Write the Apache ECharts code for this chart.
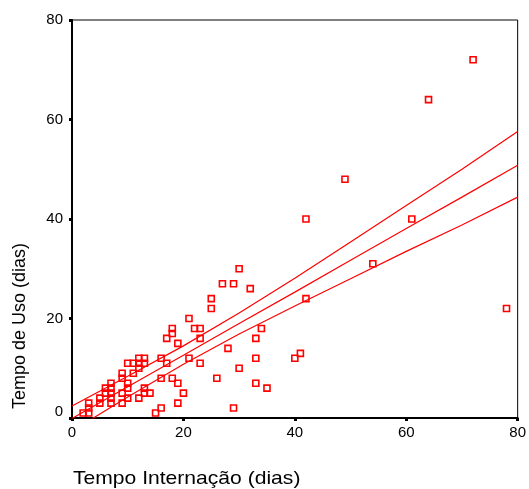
<!DOCTYPE html>
<html>
<head>
<meta charset="utf-8">
<script src="https://cdn.jsdelivr.net/npm/echarts@6/dist/echarts.min.js"></script>
<style>html,body{margin:0;padding:0;background:#fff;}#c{width:529px;height:489px;}</style>
</head>
<body>
<div id="c"></div>
<script>
// Observed points: [Tempo Internação, Tempo de Uso]
const points = [
  [72,72],[64,64],[49,48],[42,40],[61,40],[54,31],[78,22],[42,24],[41,13],[40,12],
  [30,30],[27,27],[29,27],[32,26],[25,24],[25,22],[21,20],[22,18],[23,18],[34,18],
  [23,16],[33,16],[28,14],[21,12],[23,11],[33,12],[30,10],[26,8],[33,7],[35,6],
  [29,2],[18,18],[18,17],[17,16],[19,15],[16,12],[17,11],[16,8],[18,8],[19,7],
  [20,5],[19,3],[16,2],[15,1],[13,6],[13,5],[14,5],[12,4],
  [10,11],[11,11],[12,12],[13,12],[12,11],[13,11],[12,10],[11,9],[9,9],[9,8],
  [10,7],[10,6],[7,7],[6,6],[7,6],[9,5],[10,4],[6,5],[5,4],[7,4],[7,3],[9,3],
  [3,3],[3,2],[3,1],[2,1],[5,3],[7,5]
];
// Fit line and confidence band at these x positions
const lineX    = [0, 10, 20, 30, 40, 50, 60, 70, 80];
const fitY     = [-0.1, 6.3, 12.6, 19.0, 25.3, 31.7, 38.1, 44.4, 50.8];
const upperY   = [2.4, 8.4, 14.5, 21.1, 28.1, 35.4, 42.7, 50.0, 57.6];
const lowerY   = [-2.6, 4.2, 10.8, 16.9, 22.5, 28.0, 33.5, 38.8, 44.4];
const xTicks = [0, 20, 40, 60, 80];
const yTicks = [0, 20, 40, 60, 80];
const xName = 'Tempo Internação (dias)';
const yName = 'Tempo de Uso (dias)';

const FONT = "'Liberation Sans', Arial, sans-serif";
const pair = (xs, ys) => xs.map((x, i) => [x, ys[i]]);
const lineSeries = (ys) => ({
  type: 'line', data: pair(lineX, ys), showSymbol: false, symbol: 'none',
  lineStyle: { color: '#ff0000', width: 1.2 }, silent: true, animation: false, clip: true, z: 2
});

const chart = echarts.init(document.getElementById('c'), null, { renderer: 'canvas' });
chart.setOption({
  animation: false,
  backgroundColor: '#fff',
  grid: { left: 72, right: 11, top: 20, bottom: 71, show: true, borderColor: '#000', borderWidth: 1, containLabel: false },
  xAxis: {
    type: 'value', min: xTicks[0], max: xTicks[xTicks.length - 1], interval: 20,
    splitLine: { show: false },
    axisLine: { show: true, onZero: false, lineStyle: { color: '#000', width: 2 } },
    axisTick: { show: true, inside: false, length: 3, lineStyle: { color: '#000', width: 3 } },
    axisLabel: { color: '#000', fontSize: 15, fontFamily: FONT, margin: 7 }
  },
  yAxis: {
    type: 'value', min: yTicks[0], max: yTicks[yTicks.length - 1], interval: 20,
    splitLine: { show: false },
    axisLine: { show: true, onZero: false, lineStyle: { color: '#000', width: 2 } },
    axisTick: { show: true, inside: false, length: 3, lineStyle: { color: '#000', width: 3 } },
    axisLabel: {
      color: '#000', fontSize: 15, fontFamily: FONT, margin: 9,
      formatter: v => v === 0 ? '{z|0}' : String(v),
      rich: { z: { fontSize: 15, fontFamily: FONT, color: '#000', padding: [0, 0, 12, 0] } }
    }
  },
  series: [
    lineSeries(upperY),
    lineSeries(fitY),
    lineSeries(lowerY),
    {
      type: 'scatter', data: points, symbol: 'rect', symbolSize: 6,
      itemStyle: { color: 'rgba(255,255,255,0)', borderColor: '#ff0000', borderWidth: 1.6, opacity: 1 },
      z: 3
    }
  ],
  graphic: [
    {
      type: 'text', x: 20, y: 326, rotation: Math.PI / 2,
      style: { text: yName, x: 0, y: 0, textAlign: 'center', textVerticalAlign: 'middle', align: 'center', verticalAlign: 'middle',
        font: "18px 'Liberation Sans', Arial, sans-serif", fill: '#000' }
    },
    {
      type: 'text', x: 73, y: 479, scaleX: 1.14,
      style: { text: xName, x: 0, y: 0, textAlign: 'left', textVerticalAlign: 'middle', align: 'left', verticalAlign: 'middle',
        font: "18.5px 'Liberation Sans', Arial, sans-serif", fill: '#000' }
    }
  ]
});
</script>
</body>
</html>
